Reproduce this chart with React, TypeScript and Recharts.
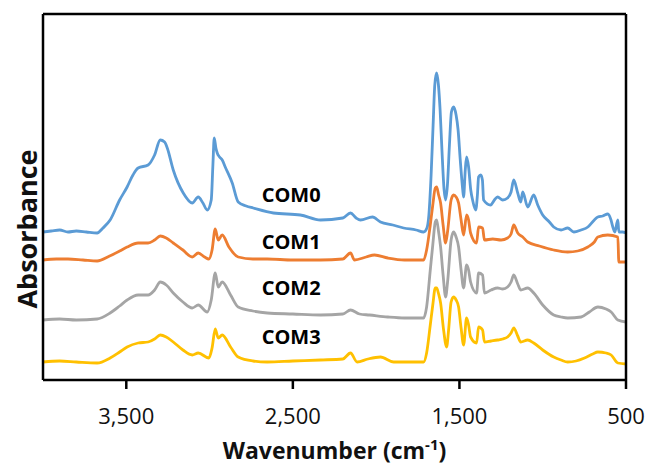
import { LineChart, Line, XAxis, YAxis, ReferenceDot } from 'recharts'

// wavenumber (cm-1), absorbance in arbitrary units (offset stacked)
const com0: [number, number][] = [
  [4000, 148], [3950, 149], [3900, 150], [3850, 148], [3800, 149], [3740, 148], [3675, 147],
  [3640, 152], [3597, 160], [3540, 180], [3495, 193], [3460, 205], [3429, 212], [3369, 215],
  [3330, 225], [3296, 240], [3270, 238], [3254, 232], [3218, 210], [3158, 187], [3104, 177],
  [3068, 183], [3040, 177], [3014, 170], [2990, 180], [2980, 215], [2972, 242], [2962, 232],
  [2954, 227], [2940, 223], [2924, 220], [2906, 213], [2864, 197], [2828, 178], [2780, 174],
  [2738, 172], [2617, 167], [2455, 165], [2334, 160], [2200, 162], [2154, 167], [2120, 162],
  [2094, 160], [2022, 163], [1974, 158], [1900, 155], [1835, 152], [1760, 150], [1715, 148],
  [1695, 152], [1685, 162], [1670, 205], [1658, 255], [1648, 295], [1637, 307], [1626, 295],
  [1616, 270], [1605, 230], [1592, 190], [1583, 180], [1572, 195], [1560, 235], [1548, 268],
  [1535, 273], [1520, 265], [1508, 250], [1495, 220], [1480, 190], [1475, 183], [1465, 210],
  [1457, 223], [1445, 213], [1432, 190], [1421, 180], [1402, 170], [1392, 185], [1385, 203],
  [1372, 205], [1362, 200], [1355, 180], [1313, 175], [1290, 180], [1271, 183], [1240, 180],
  [1211, 182], [1190, 188], [1174, 200], [1150, 187], [1132, 178], [1120, 188], [1090, 173],
  [1054, 185], [1030, 175], [1000, 165], [960, 158], [934, 153], [890, 150], [850, 152],
  [813, 148], [770, 150], [729, 153], [690, 160], [669, 163], [640, 164], [609, 166],
  [590, 160], [579, 153], [567, 148], [549, 160], [543, 148], [520, 148], [500, 147],
]

const com1: [number, number][] = [
  [4000, 120], [3920, 121], [3850, 121], [3760, 120], [3675, 119], [3600, 124], [3540, 129],
  [3495, 133], [3429, 137], [3369, 137], [3330, 140], [3296, 144], [3260, 142], [3218, 137],
  [3160, 130], [3104, 123], [3068, 127], [3030, 123], [3004, 121], [2985, 130], [2966, 151],
  [2948, 140], [2924, 145], [2884, 133], [2828, 123], [2740, 121], [2654, 121], [2500, 120],
  [2334, 120], [2200, 121], [2154, 127], [2130, 120], [2060, 123], [2010, 125], [1930, 122],
  [1830, 120], [1715, 120], [1697, 130], [1675, 155], [1660, 175], [1645, 192], [1637, 193],
  [1625, 185], [1613, 177], [1598, 155], [1583, 137], [1570, 150], [1550, 180], [1535, 185],
  [1520, 183], [1505, 177], [1490, 160], [1475, 145], [1457, 165], [1445, 160], [1433, 147],
  [1397, 137], [1385, 153], [1361, 152], [1350, 140], [1300, 141], [1250, 140], [1211, 142],
  [1190, 146], [1174, 155], [1150, 147], [1120, 143], [1090, 138], [1020, 134], [934, 130],
  [850, 128], [790, 129], [729, 133], [690, 138], [669, 143], [610, 145], [549, 143],
  [543, 118], [500, 118],
]

const com2: [number, number][] = [
  [4000, 60], [3900, 61], [3800, 60], [3675, 61], [3597, 67], [3540, 74], [3495, 80],
  [3429, 85], [3369, 85], [3330, 90], [3296, 98], [3260, 95], [3218, 87], [3160, 78],
  [3104, 72], [3068, 75], [3014, 68], [2990, 80], [2966, 107], [2948, 93], [2924, 98],
  [2874, 85], [2828, 73], [2740, 69], [2654, 67], [2500, 66], [2334, 65], [2200, 66],
  [2154, 70], [2100, 66], [2040, 65], [1930, 63], [1830, 62], [1715, 62], [1697, 73],
  [1675, 110], [1660, 135], [1645, 158], [1637, 160], [1625, 148], [1613, 133], [1598, 105],
  [1583, 83], [1570, 100], [1550, 140], [1535, 148], [1520, 143], [1505, 133], [1490, 110],
  [1475, 92], [1457, 115], [1445, 110], [1433, 98], [1397, 87], [1385, 107], [1361, 105],
  [1350, 87], [1310, 90], [1271, 92], [1240, 91], [1211, 93], [1190, 98], [1174, 105],
  [1150, 96], [1132, 90], [1090, 92], [1054, 87], [1000, 75], [934, 65], [890, 63],
  [850, 62], [769, 63], [720, 68], [669, 73], [620, 71], [589, 68], [549, 60], [500, 58],
]

const com3: [number, number][] = [
  [4000, 18], [3900, 19], [3800, 18], [3675, 17], [3597, 22], [3540, 28], [3495, 33],
  [3429, 37], [3369, 38], [3330, 41], [3296, 45], [3260, 43], [3218, 38], [3160, 30],
  [3104, 25], [3068, 27], [3004, 22], [2985, 32], [2966, 51], [2948, 42], [2924, 45],
  [2874, 33], [2828, 23], [2740, 19], [2654, 18], [2500, 19], [2334, 20], [2200, 21],
  [2154, 27], [2114, 18], [2050, 21], [1974, 23], [1895, 18], [1800, 18], [1715, 18],
  [1697, 27], [1675, 55], [1660, 75], [1645, 92], [1637, 92], [1625, 86], [1613, 77],
  [1595, 50], [1577, 33], [1565, 50], [1550, 78], [1535, 83], [1520, 80], [1505, 73],
  [1490, 52], [1475, 35], [1457, 62], [1445, 55], [1433, 43], [1397, 37], [1385, 53],
  [1361, 50], [1350, 38], [1310, 39], [1271, 40], [1240, 41], [1211, 43], [1190, 47],
  [1174, 52], [1150, 44], [1132, 38], [1090, 40], [1054, 37], [1000, 30], [934, 23],
  [890, 20], [850, 18], [800, 19], [749, 22], [700, 26], [669, 28], [620, 27], [589, 25],
  [549, 17], [500, 16],
]

const seriesNames = ['COM0', 'COM1', 'COM2', 'COM3']
const seriesColors = ['#5B9BD5', '#ED7D31', '#A5A5A5', '#FFC000']
const seriesData = [com0, com1, com2, com3]

// where the series names sit (wavenumber, absorbance)
const labelX = 2510
const labelY = [185, 138, 92, 43]

const xTicks = [3500, 2500, 1500, 500]
const yMax = 366

const toPoints = (arr: [number, number][]) => arr.map(([wn, a]) => ({ wn, a }))

const font = "'Open Sans', sans-serif"

export default function App() {
  return (
    <div style={{ position: 'absolute', left: 0, top: 0, background: '#fff' }}>
      <LineChart width={648} height={471} margin={{ top: 13, right: 21, left: 42, bottom: 0 }}>
        <XAxis
          dataKey="wn"
          type="number"
          domain={[500, 4000]}
          reversed
          ticks={xTicks}
          allowDataOverflow
          tickFormatter={(v: number) => v.toLocaleString('en-US')}
          height={91}
          stroke="#000"
          strokeWidth={2.5}
          tickSize={9}
          tickMargin={19}
          tick={{ fill: '#111', fontSize: 22, fontFamily: font }}
          label={({ viewBox }: any) => (
            <text
              x={viewBox.x + viewBox.width / 2}
              y={viewBox.y + 79}
              textAnchor="middle"
              fontFamily={font}
              fontSize={23}
              fontWeight={700}
              fill="#111"
            >
              Wavenumber (cm
              <tspan fontSize={15} dy={-9}>-1</tspan>
              <tspan dy={9}>)</tspan>
            </text>
          )}
        />
        <XAxis
          xAxisId="top"
          orientation="top"
          type="number"
          domain={[500, 4000]}
          reversed
          height={1}
          tick={false}
          tickLine={false}
          stroke="#000"
          strokeWidth={2.5}
        />
        <YAxis
          type="number"
          domain={[0, yMax]}
          width={1}
          tick={false}
          tickLine={false}
          stroke="#000"
          strokeWidth={2.5}
          label={({ viewBox }: any) => {
            const cx = 26
            const cy = viewBox.y + viewBox.height / 2 + 32
            return (
              <text
                x={cx}
                y={cy}
                transform={`rotate(-90, ${cx}, ${cy})`}
                textAnchor="middle"
                dominantBaseline="central"
                fontFamily={font}
                fontSize={27}
                fontWeight={700}
                fill="#111"
              >
                Absorbance
              </text>
            )
          }}
        />
        <YAxis
          yAxisId="right"
          orientation="right"
          type="number"
          domain={[0, yMax]}
          width={1}
          tick={false}
          tickLine={false}
          stroke="#000"
          strokeWidth={2.5}
        />
        {seriesData.map((d, i) => (
          <Line
            key={seriesNames[i]}
            data={toPoints(d)}
            dataKey="a"
            name={seriesNames[i]}
            type="monotone"
            stroke={seriesColors[i]}
            strokeWidth={2.8}
            dot={false}
            isAnimationActive={false}
          />
        ))}
        {seriesNames.map((n, i) => (
          <ReferenceDot
            key={n}
            x={labelX}
            y={labelY[i]}
            r={0}
            fill="none"
            stroke="none"
            label={{ value: n, position: 'center', fill: '#000', fontSize: 20, fontWeight: 700, fontFamily: font }}
          />
        ))}
      </LineChart>
    </div>
  )
}
